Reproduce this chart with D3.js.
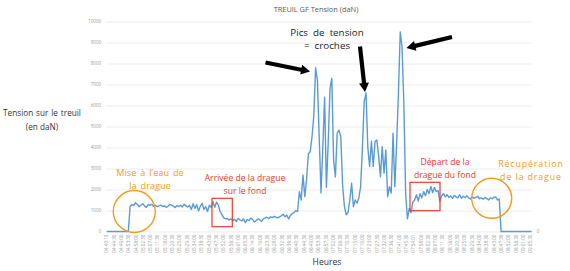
<!DOCTYPE html>
<html>
<head>
<meta charset="utf-8">
<script src="https://cdn.jsdelivr.net/npm/d3@7/dist/d3.min.js"></script>
<style>
body { margin: 0; background: #fff; }
text { font-family: "Open Sans", sans-serif; }
</style>
</head>
<body>
<svg id="chart" width="570" height="271"></svg>
<script>
// tension values (daN), one sample per category step
var tension = [
	0, 0, 0, 0, 0, 0, 0, 0, 0, 0, 0, 0, 0,
	1200, 1280, 1250, 1370, 1300, 1180, 1260, 1320, 1220, 1150, 1280, 1240, 1300, 1200,
	1250, 1180, 1220, 1260, 1190, 1230, 1150, 1200, 1280, 1260, 1210, 1140, 1230, 1190, 1250, 1170, 1300, 1220, 1160,
	1250, 1050, 1320, 1100, 1280, 980, 1200, 1340, 1050, 1180, 950, 1250, 1150,
	1420, 1150, 1400, 1250, 950, 800, 650, 600, 620,
	550, 600, 520, 580, 480, 620, 550, 500, 600, 420, 560, 520, 640, 580, 450, 520, 600, 560, 480,
	600, 650, 680, 620, 700, 660, 720, 680, 650, 700,
	750, 820, 700, 780, 600, 760, 850,
	900, 1000, 950,
	1900, 1500, 2690, 1660, 2500, 3700, 3800, 4500, 5500, 7800, 7200, 4500, 1830, 4000, 6400, 2100, 4200, 6800, 7300, 3400,
	2600, 4700, 4830, 4500, 2200, 1200, 800, 900, 1500, 2300, 1180, 1500, 1350, 1600, 2130, 4000, 6200, 6600, 4000, 3090,
	4300, 3100, 4280, 4360, 3600, 2610, 4040, 2780, 3880, 1660, 2130, 1830, 4680, 2130, 4200, 6580, 9500, 8800, 6100, 1800,
	600, 1100, 900, 1400, 1500, 1750, 1450, 1800, 1600, 1900, 1700, 2000, 1800, 2150, 1850, 2100, 1900, 1950, 1420, 1700, 1800, 1650,
	1750, 1620, 1700, 1580, 1720, 1650, 1600, 1750, 1580, 1680, 1620, 1700,
	1600, 1550, 1650, 1580, 1620, 1680, 1560, 1600, 1540, 1620, 1580, 1500, 1600, 1560, 1620,
	1650, 1500, 1550,
	0, 0, 0, 0, 0, 0, 0, 0, 0, 0, 0, 0, 0, 0, 0, 0, 0, 0
];

var timeLabels = [
	"04:40:19", "04:44:30", "04:49:00", "04:53:30", "04:58:00", "05:02:30", "05:07:00", "05:11:30",
	"05:16:00", "05:20:30", "05:25:00", "05:29:30", "05:34:00", "05:38:30", "05:43:00", "05:47:30",
	"05:52:00", "05:56:30", "06:01:00", "06:05:30", "06:14:30", "06:19:00", "06:23:30", "06:28:00",
	"06:32:30", "06:36:30", "06:40:30", "06:44:30", "06:49:00", "06:53:30", "06:57:30", "07:02:00",
	"07:06:30", "07:10:30", "07:15:00", "07:19:00", "07:23:00", "07:27:30", "07:32:00", "07:36:30",
	"07:41:00", "07:45:30", "07:54:01", "07:58:00", "08:02:30", "08:07:00", "08:11:30", "08:16:00",
	"08:20:30", "08:25:00", "08:29:30", "08:34:00", "08:38:30", "08:43:00", "08:47:30", "08:52:00",
	"08:56:30", "09:01:00", "09:05:30"
];

var yTicks = [0, 1000, 2000, 3000, 4000, 5000, 6000, 7000, 8000, 9000, 10000];

var ORANGE = "#f39a1e", RED = "#ec3b2c", BLUE = "#5b9bd5";
var PLOT_LEFT = 106.7, PLOT_RIGHT = 531.7, PLOT_TOP = 21.5, PLOT_BOTTOM = 231.5;

var svg = d3.select("#chart");

var x = d3.scaleLinear().domain([0, tension.length - 1]).range([PLOT_LEFT, PLOT_RIGHT]);
var y = d3.scaleLinear().domain([0, 10000]).range([PLOT_BOTTOM, PLOT_TOP]);
var xCat = d3.scalePoint().domain(timeLabels).range([PLOT_LEFT, 530.5]);
var yRight = d3.scaleLinear().domain([0, 1]).range([PLOT_BOTTOM, PLOT_TOP]);

// gridlines + left tick labels
var yAxis = svg.append("g")
	.attr("transform", "translate(" + PLOT_LEFT + ",0)")
	.call(d3.axisLeft(y).tickValues(yTicks).tickFormat(d3.format("d"))
		.tickSize(-(PLOT_RIGHT - PLOT_LEFT)).tickPadding(5.5));
yAxis.select(".domain").remove();
yAxis.selectAll("line").attr("stroke", "#e8e8e8").attr("stroke-width", 0.8);
yAxis.selectAll("text")
	.attr("fill", "#9a9a9a")
	.style("font-size", "4.6px");

// secondary axis, only "0"
var yAxisRight = svg.append("g")
	.attr("transform", "translate(" + PLOT_RIGHT + ",0)")
	.call(d3.axisRight(yRight).tickValues([0]).tickFormat(d3.format("d")).tickSize(0).tickPadding(5));
yAxisRight.select(".domain").remove();
yAxisRight.selectAll("text")
	.attr("fill", "#9a9a9a")
	.style("font-size", "4.6px");

// category labels (vertical)
svg.append("g")
	.selectAll("text")
	.data(timeLabels)
	.enter()
	.append("text")
	.attr("transform", function(d) {
		return "translate(" + xCat(d) + ",234.5) rotate(-90)";
	})
	.attr("dy", "0.35em")
	.attr("text-anchor", "end")
	.attr("fill", "#9a9a9a")
	.style("font-size", "4.6px")
	.text(function(d) { return d; });

// tension line
var line = d3.line()
	.x(function(d, i) { return x(i); })
	.y(function(d) { return y(d); });

svg.append("path")
	.datum(tension)
	.attr("fill", "none")
	.attr("stroke", BLUE)
	.attr("stroke-width", 1.4)
	.attr("stroke-linejoin", "round")
	.attr("d", line);

// titles
svg.append("text")
	.attr("x", 316).attr("y", 12)
	.attr("text-anchor", "middle")
	.attr("fill", "#595959")
	.style("font-size", "7.4px")
	.text("TREUIL GF Tension (daN)");

svg.append("text")
	.attr("x", 42).attr("y", 116)
	.attr("text-anchor", "middle")
	.attr("fill", "#333")
	.style("font-size", "8.2px")
	.style("word-spacing", "0.8px")
	.text("Tension sur le treuil");
svg.append("text")
	.attr("x", 42).attr("y", 130)
	.attr("text-anchor", "middle")
	.attr("fill", "#333")
	.style("font-size", "8.2px")
	.text("(en daN)");

svg.append("text")
	.attr("x", 327).attr("y", 265)
	.attr("text-anchor", "middle")
	.attr("fill", "#333")
	.style("font-size", "8.6px")
	.text("Heures");

// annotations
var notes = [
	{lines: ["Pics de tension", "= croches"], x: 327, y: 36, color: "#222", size: 9.8, ws: 2.5},
	{lines: ["Mise à l’eau de", "la drague"], x: 150, y: 176, color: ORANGE, size: 9.2, ws: 1.5},
	{lines: ["Arrivée de la drague", "sur le fond"], x: 245, y: 181, color: RED, size: 8.6, ws: 0},
	{lines: ["Départ de la", "drague du fond"], x: 445, y: 165, color: RED, size: 8.6, ws: 0},
	{lines: ["Récupération", "de la drague"], x: 531, y: 167, color: ORANGE, size: 8.8, ws: 0, ls: 0.9}
];

var noteGroups = svg.selectAll(".note")
	.data(notes)
	.enter()
	.append("text")
	.classed("note", true)
	.attr("text-anchor", "middle")
	.attr("fill", function(d) { return d.color; })
	.style("font-size", function(d) { return d.size + "px"; })
	.style("word-spacing", function(d) { return d.ws + "px"; })
	.style("letter-spacing", function(d) { return (d.ls || 0) + "px"; });

noteGroups.selectAll("tspan")
	.data(function(d) { return d.lines.map(function(l, i) { return {t: l, i: i, p: d}; }); })
	.enter()
	.append("tspan")
	.attr("x", function(d) { return d.p.x; })
	.attr("y", function(d) { return d.p.y + d.i * 12.8; })
	.text(function(d) { return d.t; });

// circles and boxes
var circles = [
	{cx: 134.3, cy: 211.5, r: 21},
	{cx: 491.7, cy: 198.3, r: 20}
];
svg.selectAll(".ring")
	.data(circles)
	.enter()
	.append("circle")
	.attr("cx", function(d) { return d.cx; })
	.attr("cy", function(d) { return d.cy; })
	.attr("r", function(d) { return d.r; })
	.attr("fill", "none")
	.attr("stroke", ORANGE)
	.attr("stroke-width", 1.4);

var boxes = [
	{x: 212, y: 198.3, w: 20.3, h: 28.4},
	{x: 410, y: 182.3, w: 30, h: 28.4}
];
svg.selectAll(".box")
	.data(boxes)
	.enter()
	.append("rect")
	.attr("x", function(d) { return d.x; })
	.attr("y", function(d) { return d.y; })
	.attr("width", function(d) { return d.w; })
	.attr("height", function(d) { return d.h; })
	.attr("fill", "none")
	.attr("stroke", RED)
	.attr("stroke-width", 1.2);

// black arrows
var arrows = [
	{x1: 265.5, y1: 62.5, x2: 310, y2: 71.5},
	{x1: 360, y1: 46.5, x2: 365, y2: 92},
	{x1: 452, y1: 37, x2: 406.5, y2: 48}
];

function arrowPath(d) {
	var dx = d.x2 - d.x1, dy = d.y2 - d.y1;
	var len = Math.sqrt(dx * dx + dy * dy);
	var ux = dx / len, uy = dy / len, nx = -uy, ny = ux;
	var head = 9, hw = 5, sw = 2.1;
	var bx = d.x2 - ux * head, by = d.y2 - uy * head;
	var pts = [
		[d.x1 + nx * sw, d.y1 + ny * sw],
		[bx + nx * sw, by + ny * sw],
		[bx + nx * hw, by + ny * hw],
		[d.x2, d.y2],
		[bx - nx * hw, by - ny * hw],
		[bx - nx * sw, by - ny * sw],
		[d.x1 - nx * sw, d.y1 - ny * sw]
	];
	return "M" + pts.map(function(p) { return p[0] + "," + p[1]; }).join("L") + "Z";
}

svg.selectAll(".arrow")
	.data(arrows)
	.enter()
	.append("path")
	.attr("d", arrowPath)
	.attr("fill", "#000");
</script>
</body>
</html>
